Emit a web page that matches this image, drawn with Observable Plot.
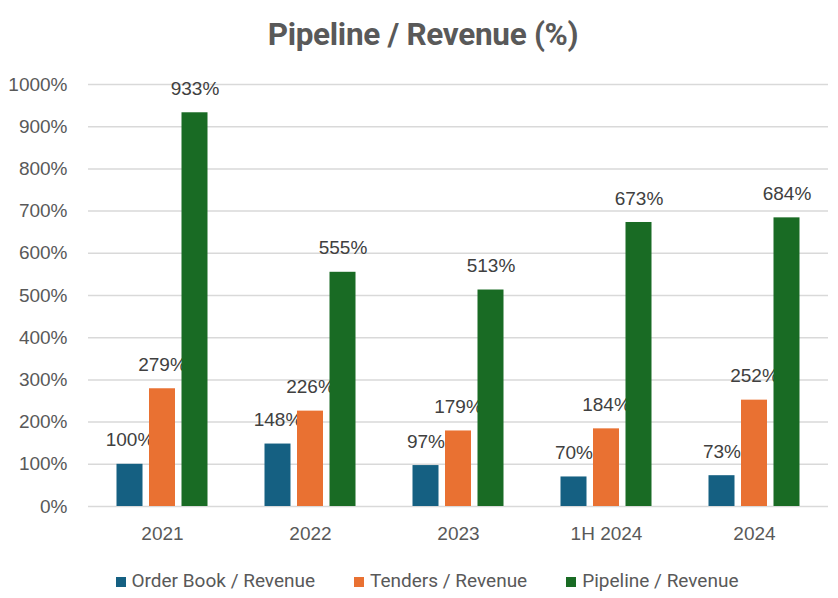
<!DOCTYPE html>
<html>
<head>
<meta charset="utf-8">
<script src="https://cdn.jsdelivr.net/npm/d3@7"></script>
<script src="https://cdn.jsdelivr.net/npm/@observablehq/plot@0.6"></script>
<style>
  html, body { margin: 0; padding: 0; background: #fff; }
  body { width: 838px; height: 598px; overflow: hidden; font-family: "Liberation Sans", Arial, sans-serif; }
  #title { height: 65px; line-height: 70px; text-align: center; padding-left: 8px; font-family: Roboto, sans-serif; font-weight: bold; font-size: 31.5px; color: #595959; letter-spacing: -0.3px; }
  #chart svg { display: block; }
  #legend { display: flex; justify-content: center; gap: 39px; font-family: Roboto, sans-serif; font-size: 19px; color: #595959; margin-top: 14px; margin-left: 16px; }
  #legend span.sw { display: inline-block; width: 10px; height: 10px; margin-right: 6px; vertical-align: 0px; }
</style>
</head>
<body>
<div id="title">Pipeline / Revenue (%)</div>
<div id="chart"></div>
<div id="legend"></div>
<script>
const categories = ["2021", "2022", "2023", "1H 2024", "2024"];
const seriesNames = ["Order Book / Revenue", "Tenders / Revenue", "Pipeline / Revenue"];
const orderBook = [100, 148, 97, 70, 73];
const tenders = [279, 226, 179, 184, 252];
const pipeline = [933, 555, 513, 673, 684];
const colors = ["#156082", "#E97132", "#196B24"];
const yTicks = [0, 100, 200, 300, 400, 500, 600, 700, 800, 900, 1000];

const seriesValues = [orderBook, tenders, pipeline];
const seriesOffsets = [-32.5, 0, 32.5]; // pixel offset of each series within a group

const marks = [
  Plot.gridY(yTicks, {stroke: "#d9d9d9", strokeOpacity: 1, strokeWidth: 1.5}),
  Plot.axisY(yTicks, {tickFormat: d => d + "%", tickSize: 0, tickPadding: 21, fontSize: 19, fill: "#595959", label: null}),
  Plot.axisX({tickSize: 0, tickPadding: 20, fontSize: 19, fill: "#595959", label: null})
];
seriesNames.forEach((s, j) => {
  const rows = categories.map((c, i) => ({category: c, series: s, value: seriesValues[j][i]}));
  marks.push(Plot.barY(rows, {x: "category", y: "value", fill: "series", dx: seriesOffsets[j]}));
  marks.push(Plot.text(rows, {x: "category", y: "value", text: d => d.value + "%", dx: seriesOffsets[j], dy: -24, fontSize: 19, fill: "#404040"}));
});

const chart = Plot.plot({
  width: 838,
  height: 490,
  marginLeft: 88,
  marginRight: 10,
  marginTop: 19,
  marginBottom: 49,
  style: {fontFamily: "'Liberation Sans', Arial, sans-serif", fontSize: "19px", color: "#595959", background: "white"},
  x: {domain: categories, paddingInner: 0.824, paddingOuter: 0.412, label: null},
  y: {domain: [0, 1000], label: null},
  color: {domain: seriesNames, range: colors},
  marks
});
document.getElementById("chart").appendChild(chart);

const legend = document.getElementById("legend");
seriesNames.forEach((s, j) => {
  const item = document.createElement("div");
  const sw = document.createElement("span");
  sw.className = "sw";
  sw.style.background = colors[j];
  item.appendChild(sw);
  item.appendChild(document.createTextNode(s));
  legend.appendChild(item);
});
</script>
</body>
</html>
